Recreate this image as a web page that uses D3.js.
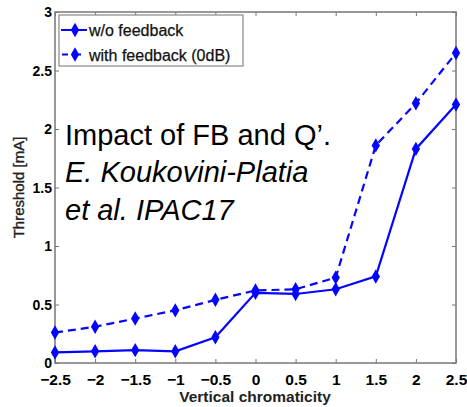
<!DOCTYPE html>
<html>
<head>
<meta charset="utf-8">
<script src="https://cdn.jsdelivr.net/npm/d3@7"></script>
<style>
  html, body { margin: 0; padding: 0; background: #fff; }
  svg { display: block; font-family: "Liberation Sans", Arial, Helvetica, sans-serif; }
</style>
</head>
<body>
<svg id="chart" width="467" height="407"></svg>
<script>
// Vertical chromaticity values (x axis)
const chromaticity = [-2.5, -2, -1.5, -1, -0.5, 0, 0.5, 1, 1.5, 2, 2.5];
// Instability threshold [mA] without feedback
const thresholdNoFb = [0.09, 0.10, 0.11, 0.10, 0.22, 0.60, 0.59, 0.63, 0.74, 1.83, 2.21];
// Instability threshold [mA] with feedback (0 dB)
const thresholdFb = [0.26, 0.31, 0.38, 0.45, 0.54, 0.62, 0.63, 0.73, 1.86, 2.22, 2.65];

const xTicks = [-2.5, -2, -1.5, -1, -0.5, 0, 0.5, 1, 1.5, 2, 2.5];
const yTicks = [0, 0.5, 1, 1.5, 2, 2.5, 3];
const seriesNames = ["w/o feedback", "with feedback (0dB)"];
const noteLines = ["Impact of FB and Q\u2019.", "E. Koukovini-Platia", "et al. IPAC17"];

const svg = d3.select("#chart");
const plotL = 55, plotR = 456, plotT = 12, plotB = 363;
const blue = "#0505ff";

const x = d3.scaleLinear().domain([-2.5, 2.5]).range([plotL, plotR]);
const y = d3.scaleLinear().domain([0, 3]).range([plotB, plotT]);

// frame
svg.append("rect")
  .attr("x", plotL).attr("y", plotT)
  .attr("width", plotR - plotL).attr("height", plotB - plotT)
  .attr("fill", "none").attr("stroke", "#777").attr("stroke-width", 1.5);

// axes with inward ticks on all four sides
const tickStyle = g => {
  g.select(".domain").remove();
  g.selectAll(".tick line").attr("stroke", "#777").attr("stroke-width", 1);
  g.selectAll(".tick text").attr("fill", "#000").attr("font-weight", "bold");
};
svg.append("g").attr("transform", `translate(0,${plotB})`)
  .call(d3.axisBottom(x).tickValues(xTicks).tickSizeInner(-4).tickFormat(d3.format("")))
  .call(tickStyle)
  .call(g => g.selectAll(".tick text").attr("y", 22).attr("dy", null).attr("font-size", 15.5));
svg.append("g").attr("transform", `translate(0,${plotT})`)
  .call(d3.axisTop(x).tickValues(xTicks).tickSizeInner(-4).tickFormat(""))
  .call(tickStyle);
svg.append("g").attr("transform", `translate(${plotL},0)`)
  .call(d3.axisLeft(y).tickValues(yTicks).tickSizeInner(-4).tickFormat(d3.format("")))
  .call(tickStyle)
  .call(g => g.selectAll(".tick text").attr("x", -3).attr("dy", "0.34em").attr("font-size", 14));
svg.append("g").attr("transform", `translate(${plotR},0)`)
  .call(d3.axisRight(y).tickValues(yTicks).tickSizeInner(-4).tickFormat(""))
  .call(tickStyle);

// axis titles
svg.append("text")
  .attr("x", 255).attr("y", 402)
  .attr("text-anchor", "middle").attr("font-size", 15.5).attr("font-weight", "bold").attr("fill", "#222")
  .text("Vertical chromaticity");
svg.append("text")
  .attr("transform", `translate(23.5,187.5) rotate(-90)`)
  .attr("text-anchor", "middle").attr("font-size", 15).attr("fill", "#222")
  .attr("stroke", "#222").attr("stroke-width", 0.35)
  .text("Threshold [mA]");

// series
const line = d3.line().x(d => x(d[0])).y(d => y(d[1]));
const diamond = d3.symbol().type(d3.symbolDiamond).size(60);
const series = [
  { values: thresholdNoFb, dash: null },
  { values: thresholdFb, dash: "8,5" }
];
series.forEach(s => {
  const pts = chromaticity.map((c, i) => [c, s.values[i]]);
  svg.append("path")
    .attr("d", line(pts))
    .attr("fill", "none").attr("stroke", blue).attr("stroke-width", 2.2)
    .attr("stroke-dasharray", s.dash);
  svg.append("g").selectAll("path").data(pts).join("path")
    .attr("transform", d => `translate(${x(d[0])},${y(d[1])})`)
    .attr("d", diamond).attr("fill", blue);
});

// legend
const lg = svg.append("g");
lg.append("rect").attr("x", 59).attr("y", 15).attr("width", 184).attr("height", 51)
  .attr("fill", "#fff").attr("stroke", "#888").attr("stroke-width", 1.2);
series.forEach((s, i) => {
  const cy = 30 + i * 24.5;
  lg.append("line").attr("x1", 61).attr("x2", 87).attr("y1", cy).attr("y2", cy)
    .attr("stroke", blue).attr("stroke-width", 2).attr("stroke-dasharray", s.dash ? "6,7" : null)
    .attr("stroke-dashoffset", s.dash ? -1 : null);
  lg.append("path").attr("transform", `translate(75,${cy})`).attr("d", diamond).attr("fill", blue);
  lg.append("text").attr("x", 89).attr("y", cy + 6).attr("font-size", 16).attr("fill", "#111")
    .attr("stroke", "#111").attr("stroke-width", 0.25)
    .text(seriesNames[i]);
});

// annotation
const note = svg.append("g").attr("font-size", 29).attr("fill", "#000");
noteLines.forEach((t, i) => {
  note.append("text").attr("x", 65).attr("y", 144.5 + i * 37.5)
    .attr("font-style", i === 0 ? "normal" : "italic")
    .text(t);
});
</script>
</body>
</html>
